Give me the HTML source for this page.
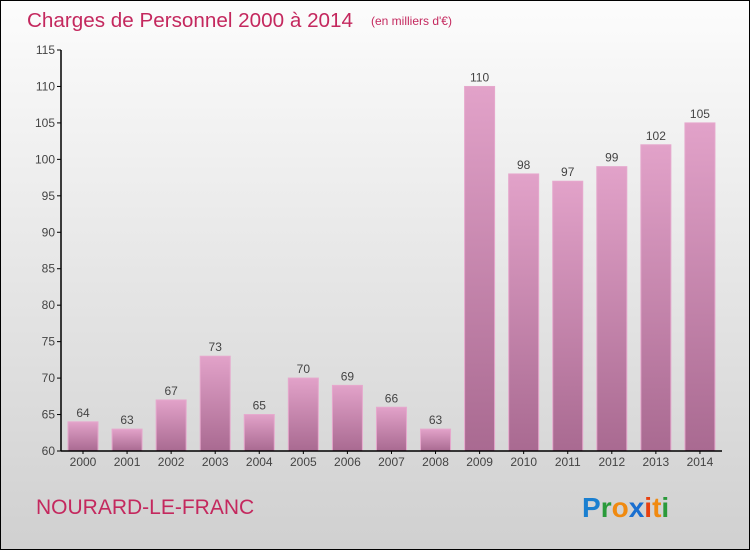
<!DOCTYPE html>
<html><head><meta charset="utf-8"><style>
body{margin:0;}
#wrap{position:relative;width:750px;height:550px;box-sizing:border-box;border:1px solid #000;background:linear-gradient(#fcfcfc,#d0d0d0);font-family:"Liberation Sans",sans-serif;overflow:hidden;}
</style></head><body>
<div id="wrap">
<svg id="chart" width="750" height="550" style="position:absolute;left:-1px;top:-1px">
<defs><linearGradient id="bg" x1="0" y1="0" x2="0" y2="1"><stop offset="0" stop-color="#e2a2c9"/><stop offset="1" stop-color="#a96a91"/></linearGradient></defs>
<text x="27" y="27" font-size="20" fill="#c4285e" textLength="326" lengthAdjust="spacingAndGlyphs">Charges de Personnel 2000 à 2014</text>
<text x="371" y="25" font-size="12" fill="#c4285e">(en milliers d'€)</text>
<text x="36" y="514" font-size="21" fill="#c4285e">NOURARD-LE-FRANC</text>
<g font-size="28" font-weight="bold">
<text x="582" y="517"><tspan fill="#1a7fd0">P</tspan><tspan fill="#2a9a3a">r</tspan><tspan fill="#f08a10">o</tspan><tspan fill="#1a6fd0">x</tspan><tspan fill="#e84010">i</tspan><tspan fill="#f08a10">t</tspan><tspan fill="#2a9a3a">i</tspan></text>
</g>
<g id="plot"></g>
</svg>
</div>
<script>
const categories=["2000","2001","2002","2003","2004","2005","2006","2007","2008","2009","2010","2011","2012","2013","2014"];
const values=[64,63,67,73,65,70,69,66,63,110,98,97,99,102,105];
const yTicks=[60,65,70,75,80,85,90,95,100,105,110,115];
const ns="http://www.w3.org/2000/svg";
const pLeft=61,pRight=722,pTop=50,pBottom=451,yMin=60,yMax=115;
const band=(pRight-pLeft)/categories.length;
const yS=v=>pBottom-(v-yMin)/(yMax-yMin)*(pBottom-pTop);
const xS=i=>pLeft+i*band;
const g=document.getElementById('plot');
function mk(t,a){const e=document.createElementNS(ns,t);for(const k in a)e.setAttribute(k,a[k]);g.appendChild(e);return e;}
values.forEach((v,i)=>{
 const r=mk('rect',{x:xS(i)+7,y:yS(v),width:30,height:pBottom-yS(v),fill:'url(#bg)',stroke:'#e6a8cd','stroke-width':1});
 
 
 const t=mk('text',{x:xS(i)+22,y:yS(v)-5,'font-size':12,fill:'#444','text-anchor':'middle'});
 t.textContent=v;
 
 
 const c=mk('text',{x:xS(i)+22,y:pBottom+15,'font-size':12,fill:'#444','text-anchor':'middle'});
 c.textContent=categories[i];
 
 
 mk('line',{x1:xS(i)+22,x2:xS(i)+22,y1:pBottom,y2:pBottom+3,stroke:'#000'});
});
yTicks.forEach(v=>{
 mk('line',{x1:pLeft-4,x2:pLeft,y1:yS(v),y2:yS(v),stroke:'#000'});
 const t=mk('text',{x:pLeft-6,y:yS(v)+4,'font-size':12,fill:'#444','text-anchor':'end'});
 t.textContent=v;
 
 
});
const ya=mk('line',{x1:pLeft,x2:pLeft,y1:pTop,y2:pBottom,stroke:'#000','stroke-width':1.5});


const xa=mk('line',{x1:pLeft,x2:pRight,y1:pBottom,y2:pBottom,stroke:'#000','stroke-width':1.5});


</script>
</body></html>
